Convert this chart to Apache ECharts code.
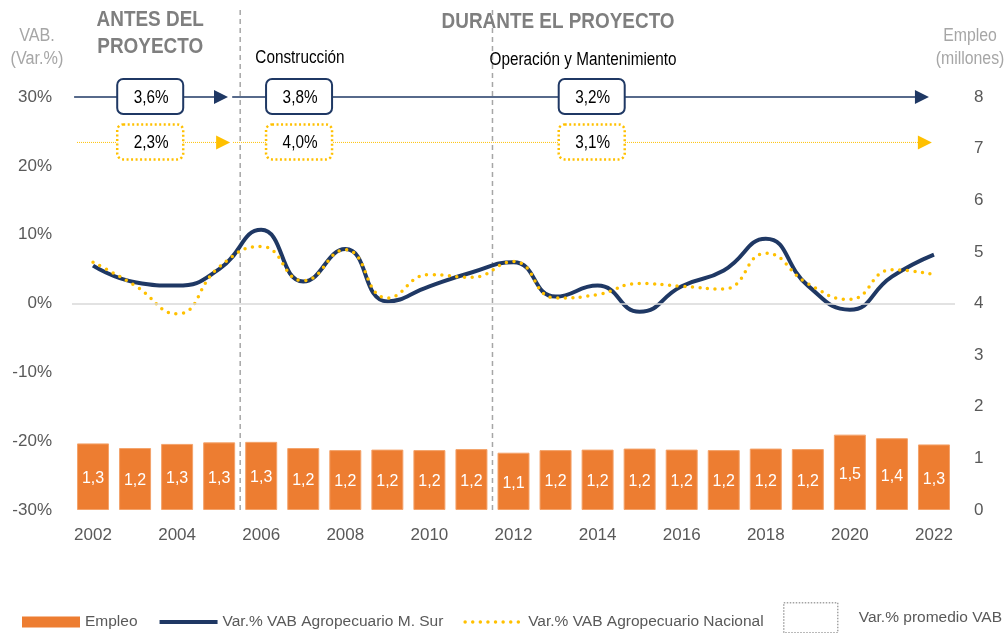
<!DOCTYPE html>
<html>
<head>
<meta charset="utf-8">
<script src="https://cdn.jsdelivr.net/npm/echarts@6/dist/echarts.min.js"></script>
<style>
  html, body { margin: 0; padding: 0; background: #fff; }
  #chart { width: 1006px; height: 633px; }
</style>
</head>
<body>
<div id="chart"></div>
<script>
const years = ['2002', '2003', '2004', '2005', '2006', '2007', '2008', '2009', '2010', '2011', '2012',
    '2013', '2014', '2015', '2016', '2017', '2018', '2019', '2020', '2021', '2022']
// empleo (millones)
const empleo = [1.29, 1.20, 1.28, 1.31, 1.32, 1.20, 1.16, 1.17, 1.16, 1.18, 1.11,
    1.16, 1.17, 1.19, 1.17, 1.16, 1.19, 1.18, 1.46, 1.39, 1.27]
// var.% VAB agropecuario
const vabSur = [5.5, 3.1, 2.6, 5.0, 10.7, 3.2, 7.9, 0.3, 2.5, 4.5, 6.0,
    1.0, 2.6, -1.2, 2.5, 4.8, 9.4, 2.6, -0.9, 3.9, 7.1]
const vabNacional = [6.0, 2.6, -1.5, 5.3, 8.3, 3.3, 7.8, 0.8, 4.2, 3.8, 6.1,
    0.8, 1.3, 2.9, 2.5, 2.1, 7.3, 2.9, 0.6, 4.9, 4.2]

// promedios por etapa
const etapas = ['Construcción', 'Operación y Mantenimiento']
const promedioSur = ['3,6%', '3,8%', '3,2%']
const promedioNac = ['2,3%', '4,0%', '3,1%']
// separadores de etapa (entre 2005/2006 y 2011/2012), en índice de categoría
const cortes = [3.5, 9.5]

const FONT = '"Liberation Sans", Arial, sans-serif'
const NAVY = '#1F3864'
const GOLD = '#FFC000'
const ORANGE = '#ED7D31'
const GREY = '#595959'
const DOTS = [0, 7.6]

const chart = echarts.init(document.getElementById('chart'))

const option = {
    animation: false,
    grid: { left: 72, right: 51, top: 97, bottom: 123 },
    legend: [
        {
            left: 17,
            top: 609,
            itemWidth: 58,
            itemHeight: 11,
            itemGap: 20,
            textStyle: { color: GREY, fontSize: 15.5, fontFamily: FONT },
            data: [
                { name: 'Empleo', icon: 'rect', itemStyle: { borderWidth: 0 } },
                {
                    name: 'Var.% VAB Agropecuario M. Sur',
                    itemStyle: { opacity: 0 },
                    lineStyle: { width: 4, color: NAVY },
                },
                {
                    name: 'Var.% VAB Agropecuario Nacional',
                    itemStyle: { opacity: 0 },
                    lineStyle: { width: 3.5, color: GOLD, type: DOTS, cap: 'round' },
                },
            ],
        },
        {
            left: 783,
            top: 602,
            padding: 0,
            itemWidth: 54,
            itemHeight: 30,
            textStyle: { color: GREY, fontSize: 15.5, fontFamily: FONT, padding: [8, 0, 0, 16] },
            data: [{
                name: 'Var.% promedio VAB',
                icon: 'rect',
                itemStyle: { color: '#fff', borderColor: '#8C8C8C', borderType: 'dotted', borderWidth: 1.5 },
            }],
        },
    ],
    xAxis: {
        type: 'category',
        data: years,
        axisLine: { show: false },
        axisTick: { show: false },
        axisLabel: { interval: 1, color: GREY, fontSize: 17, fontFamily: FONT, margin: 17 },
    },
    yAxis: [
        {
            type: 'value',
            min: -30,
            max: 30,
            interval: 10,
            splitLine: { show: false },
            axisLabel: { formatter: '{value}%', color: GREY, fontSize: 17, fontFamily: FONT, margin: 20 },
        },
        {
            type: 'value',
            min: 0,
            max: 8,
            interval: 1,
            splitLine: { show: false },
            axisLabel: { color: GREY, fontSize: 17, fontFamily: FONT, margin: 19 },
        },
    ],
    series: [
        {
            name: 'Var.% promedio VAB',
            type: 'scatter',
            yAxisIndex: 0,
            data: [],
            z: 1,
            markLine: {
                silent: true,
                symbol: 'none',
                label: { show: false },
                lineStyle: { color: '#D9D9D9', width: 1.5, type: 'solid' },
                data: [{ yAxis: 0 }],
            },
        },
        {
            name: 'Empleo',
            type: 'bar',
            yAxisIndex: 1,
            data: empleo,
            barWidth: 32,
            itemStyle: { color: ORANGE, borderColor: '#F4A36B', borderWidth: 1 },
            label: {
                show: true,
                position: 'inside',
                color: '#fff',
                fontSize: 16,
                fontFamily: FONT,
                offset: [0, 2],
                formatter: (p) => p.value.toFixed(1).replace('.', ','),
            },
        },
        {
            name: 'Var.% VAB Agropecuario M. Sur',
            type: 'line',
            yAxisIndex: 0,
            data: vabSur,
            smooth: 0.5,
            symbol: 'none',
            lineStyle: { color: NAVY, width: 4 },
            itemStyle: { color: NAVY },
            z: 3,
        },
        {
            name: 'Var.% VAB Agropecuario Nacional',
            type: 'line',
            yAxisIndex: 0,
            data: vabNacional,
            smooth: 0.5,
            symbol: 'none',
            lineStyle: { color: GOLD, width: 3.5, type: DOTS, cap: 'round' },
            itemStyle: { color: GOLD },
            z: 4,
        },
    ],
}

chart.setOption(option)

// anotaciones: etapas, flechas y cajas de promedio
const drawNotes = () => {
    const x0 = chart.convertToPixel({ xAxisIndex: 0 }, 0)
    const step = chart.convertToPixel({ xAxisIndex: 0 }, 1) - x0
    const px = (f) => x0 + f * step
    const py = (v) => chart.convertToPixel({ yAxisIndex: 0 }, v)
    const yBottom = py(-30)
    const els = []

    cortes.forEach((c) => {
        els.push({
            type: 'line',
            z: 0,
            shape: { x1: px(c), y1: 10, x2: px(c), y2: yBottom + 3 },
            style: { stroke: '#A6A6A6', lineWidth: 1.5, lineDash: [5, 4] },
        })
    })

    const rows = [
        { y: py(30), color: NAVY, width: 1.5, dash: null, segs: [[-0.45, 3.21], [3.31, 19.88]], labels: promedioSur, box: 'solid' },
        { y: py(23.4), color: GOLD, width: 1, dash: [1, 1], segs: [[-0.38, 3.26], [3.33, 19.95]], labels: promedioNac, box: 'dotted' },
    ]
    const boxPos = [1.36, 4.9, 11.86]

    const addText = (t) => {
        els.push({
            type: 'text',
            z: 12,
            x: t.x,
            y: t.y,
            scaleX: t.sx || 1,
            style: {
                text: t.text, x: 0, y: 0, align: t.align || 'center', verticalAlign: 'middle',
                fill: t.fill, fontSize: t.size, fontWeight: t.weight || 'normal',
                fontFamily: FONT, lineHeight: t.lh,
            },
        })
    }

    rows.forEach((r) => {
        r.segs.forEach(([a, b]) => {
            const tip = px(b)
            els.push({
                type: 'line',
                z: 10,
                shape: { x1: px(a), y1: r.y, x2: tip - 12, y2: r.y },
                style: { stroke: r.color, lineWidth: r.width, lineDash: r.dash },
            })
            els.push({
                type: 'polygon',
                z: 10,
                shape: { points: [[tip - 14, r.y - 7], [tip, r.y], [tip - 14, r.y + 7]] },
                style: { fill: r.color },
            })
        })
        r.labels.forEach((t, i) => {
            const cx = px(boxPos[i])
            els.push({
                type: 'rect',
                z: 11,
                shape: { x: cx - 33, y: r.y - 18, width: 66, height: 35, r: 6 },
                style: r.box === 'solid'
                    ? { fill: '#fff', stroke: NAVY, lineWidth: 2 }
                    : { fill: '#fff', stroke: GOLD, lineWidth: 2.5, lineDash: [2, 2.5] },
            })
            addText({ text: t, x: cx + 1, y: r.y + 1, fill: '#000', size: 18, sx: 0.85, lh: 20 })
        })
    })

    addText({ text: 'ANTES DEL\nPROYECTO', x: px(1.36), y: 33, fill: '#7F7F7F', size: 22, weight: 'bold', sx: 0.86, lh: 27 })
    addText({ text: 'DURANTE EL PROYECTO', x: px(11.06), y: 22, fill: '#7F7F7F', size: 22, weight: 'bold', sx: 0.86, lh: 27 })
    addText({ text: etapas[0], x: px(3.86), y: 58, fill: '#000', size: 18, sx: 0.85, align: 'left', lh: 20 })
    addText({ text: etapas[1], x: px(9.43), y: 60, fill: '#000', size: 18, sx: 0.85, align: 'left', lh: 20 })
    addText({ text: 'VAB.\n(Var.%)', x: 37, y: 48, fill: '#A6A6A6', size: 18, sx: 0.9, lh: 23 })
    addText({ text: 'Empleo\n(millones)', x: 970, y: 48, fill: '#A6A6A6', size: 18, sx: 0.88, lh: 23 })

    chart.setOption({ graphic: els })
}

drawNotes()
</script>
</body>
</html>
